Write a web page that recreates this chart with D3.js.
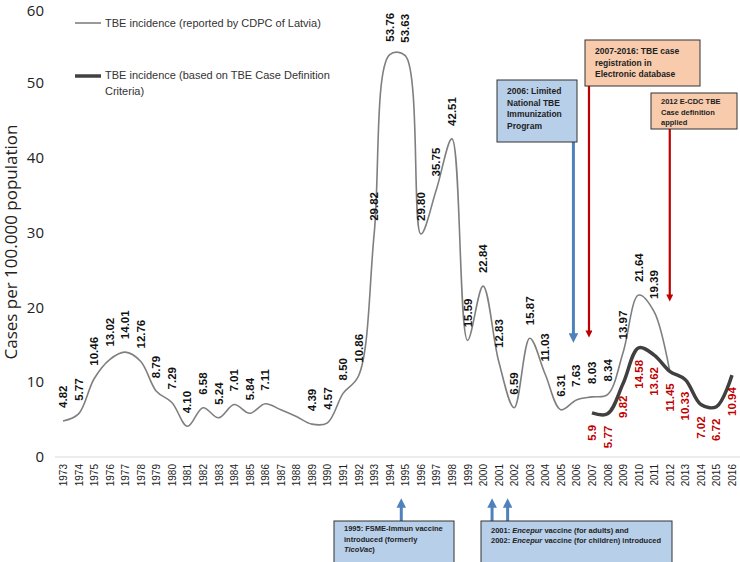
<!DOCTYPE html>
<html>
<head>
<meta charset="utf-8">
<script src="https://cdn.jsdelivr.net/npm/d3@7"></script>
<style>
  body { margin: 0; background: #fff; }
  svg { font-family: "Liberation Sans Narrow", "Liberation Sans", Arial, sans-serif; }
</style>
</head>
<body>
<div id="chart"></div>
<script>
// data
var years = d3.range(1973, 2017);
var reportedYears = [1973,1974,1975,1976,1977,1978,1979,1980,1981,1982,1983,1984,1985,1986,1987,1988,1989,1990,1991,1992,
  1993,1994,1995,1996,1997,1998,1999,2000,2001,2002,2003,2004,2005,2006,2007,2008,2009,2010,2011,2012];
var reportedValues = [4.82,5.77,10.46,13.02,14.01,12.76,8.79,7.29,4.10,6.58,5.24,7.01,5.84,7.11,6.3,5.4,4.39,4.57,8.50,10.86,
  29.82,53.76,53.63,29.80,35.75,42.51,15.59,22.84,12.83,6.59,15.87,11.03,6.31,7.63,8.03,8.34,13.97,21.64,19.39,11.45];
// years without a printed label on the reported line
var unlabeledYears = [1987, 1988, 2012];

var definedYears = [2007,2008,2009,2010,2011,2012,2013,2014,2015,2016];
var definedValues = [5.9,5.77,9.82,14.58,13.62,11.45,10.33,7.02,6.72,10.94];

var yTicks = [0,10,20,30,40,50,60];

var reported = reportedYears.map(function(d,i){ return {year: d, value: reportedValues[i]}; });
var defined = definedYears.map(function(d,i){ return {year: d, value: definedValues[i]}; });

var width = 740, height = 562;

var svg = d3.select("#chart")
  .append("svg")
    .attr("width", width)
    .attr("height", height);

var defs = svg.append("defs");
function marker(id, color){
  defs.append("marker")
    .attr("id", id)
    .attr("viewBox", "0 0 10 10")
    .attr("refX", 5).attr("refY", 5)
    .attr("markerWidth", 3.2).attr("markerHeight", 3.2)
    .attr("markerUnits", "strokeWidth")
    .attr("orient", "auto")
    .append("path")
      .attr("d", "M0,0 L10,5 L0,10 z")
      .attr("fill", color);
}
marker("arrBlue", "#4f81bd");
marker("arrRed", "#c00000");

var x = d3.scaleLinear().domain([1973, 2016]).range([63, 732]);
var y = d3.scaleLinear().domain([0, 60]).range([457, 8]);

// baseline
svg.append("line")
  .attr("x1", 55).attr("x2", 740)
  .attr("y1", y(0)).attr("y2", y(0))
  .attr("stroke", "#d9d9d9").attr("stroke-width", 1);

// Y axis (labels only)
var yAxis = svg.append("g")
  .attr("transform", "translate(44,0)")
  .call(d3.axisLeft(y).tickValues(yTicks).tickSize(0).tickPadding(0));
yAxis.select(".domain").remove();
yAxis.selectAll("text")
  .attr("font-size", 15)
  .attr("fill", "#222")
  .attr("font-family", "'Open Sans', sans-serif")
  .attr("dy", function(d){ return d == 60 ? "0.5em" : "0.32em"; });

svg.append("text")
  .attr("transform", "translate(17,242) rotate(-90)")
  .attr("text-anchor", "middle")
  .attr("font-size", 17)
  .attr("font-family", "'Open Sans', sans-serif")
  .attr("fill", "#222")
  .text("Cases per 100.000 population");

// X axis labels (rotated years)
var xAxis = svg.append("g")
  .attr("transform", "translate(0," + y(0) + ")")
  .call(d3.axisBottom(x).tickValues(years).tickFormat(d3.format("d")).tickSize(0));
xAxis.select(".domain").remove();
xAxis.selectAll("text")
  .attr("font-size", 10)
  .attr("fill", "#222")
  .attr("transform", "rotate(-90)")
  .attr("text-anchor", "end")
  .attr("x", -7)
  .attr("y", 0)
  .attr("dy", "0.35em");

// lines
var curve = d3.curveCatmullRom.alpha(0.5);
svg.append("path")
  .datum(reported)
  .attr("fill", "none")
  .attr("stroke", "#7f7f7f")
  .attr("stroke-width", 1.6)
  .attr("d", d3.line().curve(curve)
    .x(function(d){ return x(d.year); })
    .y(function(d){ return y(d.value); }));

svg.append("path")
  .datum(defined)
  .attr("fill", "none")
  .attr("stroke", "#404040")
  .attr("stroke-width", 3.5)
  .attr("d", d3.line().curve(curve)
    .x(function(d){ return x(d.year); })
    .y(function(d){ return y(d.value); }));

// data labels
svg.selectAll(".lblR")
  .data(reported.filter(function(d){ return unlabeledYears.indexOf(d.year) < 0; }))
  .enter().append("text")
    .attr("transform", function(d){ return "translate(" + x(d.year) + "," + (y(d.value) - 13) + ") rotate(-90)"; })
    .attr("dy", "0.35em")
    .attr("font-size", 11.5)
    .attr("font-weight", "bold")
    .attr("fill", "#111")
    .text(function(d){ return d.value.toFixed(2); });

svg.selectAll(".lblD")
  .data(defined)
  .enter().append("text")
    .attr("transform", function(d){ return "translate(" + x(d.year) + "," + (y(d.value) + 12) + ") rotate(-90)"; })
    .attr("dy", "0.35em")
    .attr("text-anchor", "end")
    .attr("font-size", 11.5)
    .attr("font-weight", "bold")
    .attr("fill", "#c00000")
    .text(function(d){ return d.year == 2007 ? "5.9" : d.value.toFixed(2); });

// legend
var legend = svg.append("g").attr("font-size", 11).attr("fill", "#333");
legend.append("line").attr("x1", 75).attr("x2", 101).attr("y1", 23).attr("y2", 23)
  .attr("stroke", "#7f7f7f").attr("stroke-width", 1.6);
legend.append("text").attr("x", 105).attr("y", 27).text("TBE incidence (reported by CDPC of Latvia)");
legend.append("line").attr("x1", 75).attr("x2", 101).attr("y1", 76).attr("y2", 76)
  .attr("stroke", "#404040").attr("stroke-width", 3.5);
legend.append("text").attr("x", 105).attr("y", 79).text("TBE incidence (based on TBE Case Definition");
legend.append("text").attr("x", 105).attr("y", 95).text("Criteria)");

// annotation boxes
function box(x0, y0, w, h, fill, lines, first, lineH, size){
  var g = svg.append("g");
  g.append("rect").attr("x", x0).attr("y", y0).attr("width", w).attr("height", h)
    .attr("fill", fill).attr("stroke", "#333").attr("stroke-width", 1);
  var t = g.append("text").attr("font-size", size).attr("font-weight", "bold").attr("fill", "#222");
  lines.forEach(function(l, i){
    var tl = t.append("tspan").attr("x", x0 + 10).attr("y", y0 + first + i * lineH);
    l.forEach(function(p){
      tl.append("tspan").attr("font-style", p[1] ? "italic" : null).text(p[0]);
    });
  });
  return g;
}

function arrow(xp, y1, y2, color, id, sw){
  svg.append("line")
    .attr("x1", xp).attr("x2", xp).attr("y1", y1).attr("y2", y2)
    .attr("stroke", color).attr("stroke-width", sw)
    .attr("marker-end", "url(#" + id + ")");
}

arrow(x(2006) - 3, 142, 338, "#4f81bd", "arrBlue", 3);
arrow(x(2007) - 3, 86, 334, "#c00000", "arrRed", 2.2);
arrow(x(2012), 129, 298, "#c00000", "arrRed", 2.2);
arrow(x(1995) - 4, 521, 503, "#4f81bd", "arrBlue", 3);
arrow(x(2000) + 9, 521, 503, "#4f81bd", "arrBlue", 3);
arrow(x(2001) + 9, 521, 503, "#4f81bd", "arrBlue", 3);

box(497, 80, 80, 62, "#b8cfea", [[["2006: Limited"]], [["National    TBE"]], [["Immunization"]], [["Program"]]], 14, 11.5, 8.5);
box(585, 40, 115, 46, "#f8cbad", [[["2007-2016: TBE case"]], [["registration  in"]], [["Electronic  database"]]], 14, 11.5, 8.5);
box(651, 93, 86, 36, "#f8cbad", [[["2012 E-CDC TBE"]], [["Case definition"]], [["applied"]]], 11, 10.5, 7.5);
box(334, 521, 120, 42, "#b8cfea", [[["1995: FSME-Immun vaccine"]], [["introduced (formerly"]], [["TicoVac", true], [")"]]], 10, 10.5, 7.5);
box(481, 521, 191, 42, "#b8cfea", [[["2001: "], ["Encepur", true], [" vaccine (for adults) and"]], [["2002: "], ["Encepur", true], [" vaccine (for children) introduced"]]], 12, 10, 7.5);
</script>
</body>
</html>
